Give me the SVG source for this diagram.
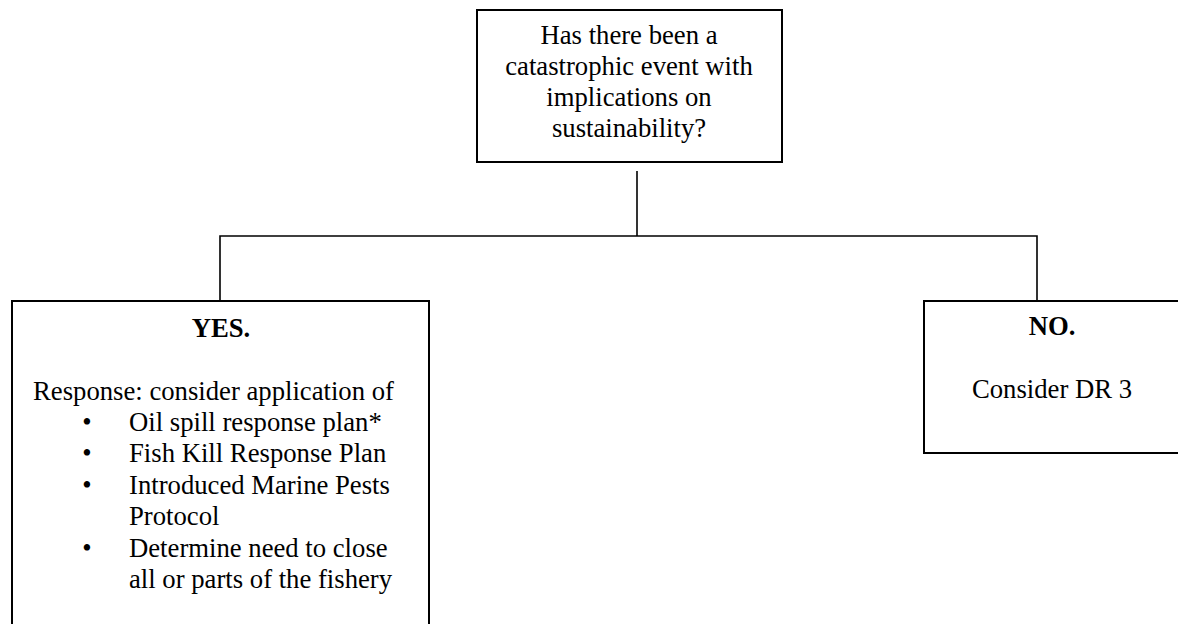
<svg xmlns="http://www.w3.org/2000/svg" width="1178" height="624" viewBox="0 0 1178 624">
  <style>
    .box { fill: #ffffff; stroke: #000000; stroke-width: 2; }
    .wire { fill: none; stroke: #000000; stroke-width: 1.6; }
    .t { font-family: "Liberation Serif", "Times New Roman", serif; font-size: 26.7px; fill: #000000; }
    .mid { text-anchor: middle; }
    .b { font-weight: bold; }
  </style>
  <rect width="1178" height="624" fill="#ffffff"/>

  <!-- connectors: question down to the split, then down to each answer -->
  <g id="connectors">
    <line class="wire" x1="637" y1="171" x2="637" y2="236"/>
    <polyline class="wire" points="220,301 220,236 1037,236 1037,301"/>
  </g>

  <!-- question -->
  <g id="question">
    <rect class="box" x="477" y="10" width="305" height="152"/>
    <text class="t mid" x="629" y="44">Has there been a</text>
    <text class="t mid" x="629" y="75">catastrophic event with</text>
    <text class="t mid" x="629" y="106">implications on</text>
    <text class="t mid" x="629" y="137">sustainability?</text>
  </g>

  <!-- yes branch -->
  <g id="yes">
    <rect class="box" x="12" y="301" width="417" height="340"/>
    <text class="t b mid" x="221" y="337">YES.</text>
    <text class="t" x="33" y="400">Response: consider application of</text>
    <text class="t mid" x="87" y="431">•</text>
    <text class="t" x="129" y="431">Oil spill response plan*</text>
    <text class="t mid" x="87" y="462">•</text>
    <text class="t" x="129" y="462">Fish Kill Response Plan</text>
    <text class="t mid" x="87" y="494">•</text>
    <text class="t" x="129" y="494">Introduced Marine Pests</text>
    <text class="t" x="129" y="525">Protocol</text>
    <text class="t mid" x="87" y="557">•</text>
    <text class="t" x="129" y="557">Determine need to close</text>
    <text class="t" x="129" y="588">all or parts of the fishery</text>
  </g>

  <!-- no branch -->
  <g id="no">
    <rect class="box" x="924" y="301" width="256" height="152"/>
    <text class="t b mid" x="1052" y="335">NO.</text>
    <text class="t mid" x="1052" y="398">Consider DR 3</text>
  </g>
</svg>
